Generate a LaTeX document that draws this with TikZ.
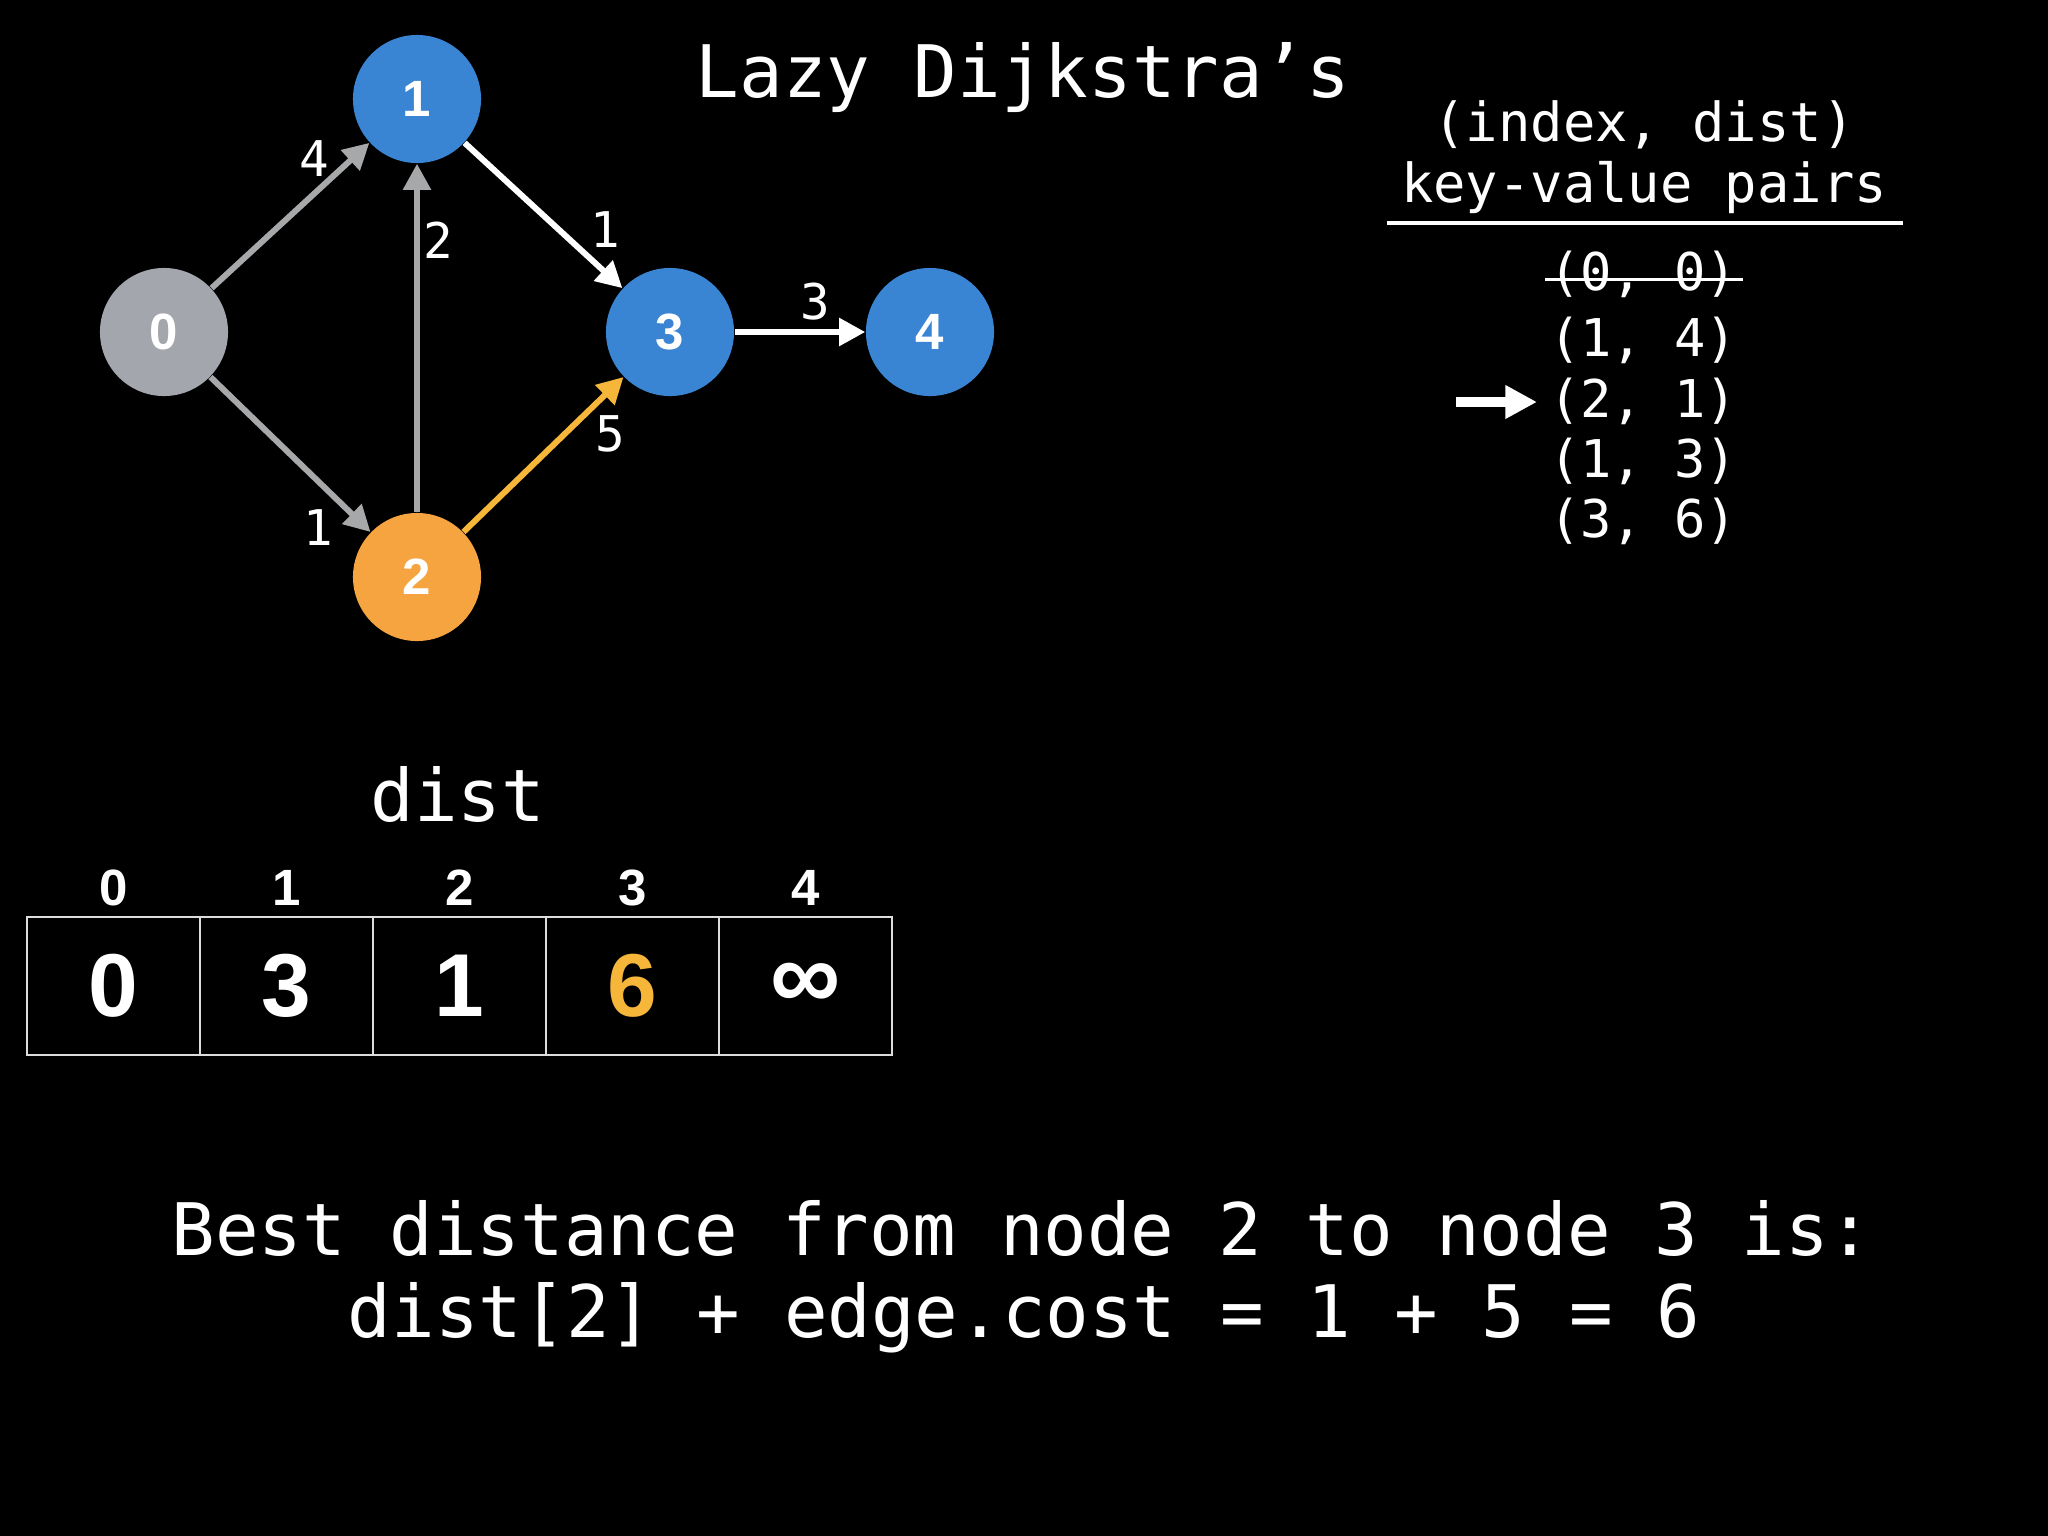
\documentclass[tikz,border=0pt]{standalone}
\usepackage{fontspec}
\setmainfont{DejaVu Sans Mono}
\newfontfamily\numfont{Liberation Sans}
\usepackage{tikz}
\usetikzlibrary{arrows.meta}
\definecolor{nodeblue}{HTML}{3A85D3}
\definecolor{nodeorange}{HTML}{F5A440}
\definecolor{nodegray}{HTML}{A3A6AC}
\definecolor{edgegray}{HTML}{A6A8AA}
\definecolor{edgegold}{HTML}{F6B63A}
\definecolor{gridgray}{HTML}{DDDDDD}
\tikzset{
  vertex/.style={circle,minimum size=1.28cm,inner sep=0pt,text=white,
    font=\numfont\bfseries\fontsize{14.5}{14.5}\selectfont},
  unvisited/.style={vertex,fill=nodeblue},
  visited/.style={vertex,fill=nodegray},
  current/.style={vertex,fill=nodeorange},
  wt/.style={text=white,inner sep=0pt,font=\fontsize{14}{14}\selectfont},
  link/.style={-{Triangle[length=7.4pt,width=7.6pt]},line width=1.7pt},
  mono/.style={text=white,inner sep=0pt,anchor=base},
  cell/.style={draw=gridgray,line width=0.6pt,minimum width=1.73cm,
    minimum height=1.38cm,inner sep=0pt,text=white,
    font=\numfont\bfseries\fontsize{25.4}{25.4}\selectfont},
  idx/.style={mono,font=\numfont\bfseries\fontsize{14.5}{14.5}\selectfont},
  ptr/.style={-{Triangle[length=9pt,width=9pt]},line width=2.8pt,white}
}
\begin{document}
\begin{tikzpicture}[x=0.01cm,y=-0.01cm]
  \fill[black] (0,0) rectangle (2048,1536);

  % Graph
  \node[visited] (n0) at (164,332) {0};
  \node[unvisited] (n1) at (417,99) {1};
  \node[current] (n2) at (417,577) {2};
  \node[unvisited] (n3) at (670,332) {3};
  \node[unvisited] (n4) at (930,332) {4};
  \draw[link,edgegray] (n0) -- (n1);
  \draw[link,edgegray] (n0) -- (n2);
  \draw[link,edgegray] (n2) -- (n1);
  \draw[link,white] (n1) -- (n3);
  \draw[link,edgegold] (n2) -- (n3);
  \draw[link,white] (n3) -- (n4);
  \node[wt] (w01) at (314,159) {4};
  \node[wt] (w02) at (318,528) {1};
  \node[wt] (w21) at (438,240) {2};
  \node[wt] (w13) at (605,230) {1};
  \node[wt] (w23) at (610,434) {5};
  \node[wt] (w34) at (815,302) {3};

  % Title
  \node[mono,font=\fontsize{20.6}{20.6}\selectfont] (title) at (1023,97) {Lazy Dijkstra’s};

  % Priority queue
  \node[mono,font=\fontsize{15.3}{15.3}\selectfont] (pqhead) at (1644,141) {(index, dist)};
  \node[mono,font=\fontsize{15.3}{15.3}\selectfont] (pqsub) at (1644,202) {key-value pairs};
  \draw[white,line width=1.4pt] (1387,223) -- (1903,223);
  \node[mono,font=\fontsize{14.8}{14.8}\selectfont] (p0) at (1643,290) {(0, 0)};
  \node[mono,font=\fontsize{14.8}{14.8}\selectfont] (p1) at (1643,356) {(1, 4)};
  \node[mono,font=\fontsize{14.8}{14.8}\selectfont] (p2) at (1643,417) {(2, 1)};
  \node[mono,font=\fontsize{14.8}{14.8}\selectfont] (p3) at (1643,477) {(1, 3)};
  \node[mono,font=\fontsize{14.8}{14.8}\selectfont] (p4) at (1643,537) {(3, 6)};
  \draw[white,line width=0.8pt] ([xshift=-1pt,yshift=3.1pt]p0.base west) -- ([xshift=1.5pt,yshift=3.1pt]p0.base east);
  \coordinate (ptrtail) at (1456,402);
  \coordinate (ptrhead) at (1537,402);
  \draw[ptr] (ptrtail) -- (ptrhead);

  % dist array
  \node[mono,font=\fontsize{20.6}{20.6}\selectfont] (distlbl) at (458,821) {dist};
  \node[idx] (i0) at (113.5,905) {0};
  \node[idx] (i1) at (286.5,905) {1};
  \node[idx] (i2) at (459.5,905) {2};
  \node[idx] (i3) at (632.5,905) {3};
  \node[idx] (i4) at (805.5,905) {4};
  \node[cell] (c0) at (113.5,986) {0};
  \node[cell] (c1) at (286.5,986) {3};
  \node[cell] (c2) at (459.5,986) {1};
  \node[cell,text=edgegold] (c3) at (632.5,986) {6};
  \node[cell,font=\numfont\bfseries\fontsize{28}{28}\selectfont] (c4) at (805.5,986) {∞};

  % Explanation
  \node[mono,font=\fontsize{20.6}{20.6}\selectfont] (best1) at (1022,1255) {Best distance from node 2 to node 3 is:};
  \node[mono,font=\fontsize{20.6}{20.6}\selectfont] (best2) at (1024,1337) {dist[2] + edge.cost = 1 + 5 = 6};
\end{tikzpicture}
\end{document}
